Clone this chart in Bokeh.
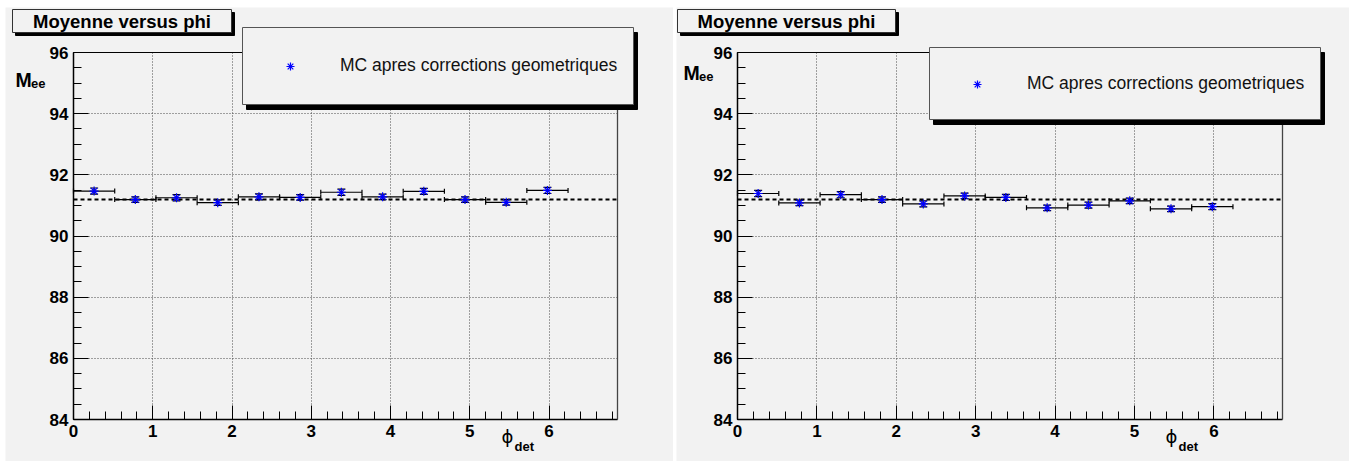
from bokeh.plotting import figure
from bokeh.layouts import row
from bokeh.models import (ColumnDataSource, Whisker, TeeHead, Label, BoxAnnotation, Range1d,
                          LinearAxis, FixedTicker, SingleIntervalTicker, Legend, LegendItem)
from bokeh.embed import file_html
from bokeh.resources import INLINE

# ---------------- data ----------------
phi_centers = [0.26, 0.78, 1.30, 1.82, 2.34, 2.86, 3.38, 3.90, 4.42, 4.94, 5.46, 5.98]
phi_halfwidth = [0.26, 0.26, 0.26, 0.26, 0.26, 0.26, 0.26, 0.26, 0.26, 0.26, 0.26, 0.26]
left_mass = [91.47, 91.19, 91.25, 91.09, 91.28, 91.26, 91.43, 91.28, 91.46, 91.19, 91.10, 91.49]
left_err = [0.10, 0.09, 0.10, 0.09, 0.10, 0.09, 0.10, 0.09, 0.10, 0.09, 0.09, 0.10]
right_mass = [91.39, 91.08, 91.35, 91.19, 91.05, 91.31, 91.26, 90.92, 91.01, 91.15, 90.89, 90.96]
right_err = [0.10, 0.09, 0.10, 0.09, 0.10, 0.09, 0.10, 0.09, 0.10, 0.09, 0.09, 0.10]
mean_mass = 91.19
x_limits = [0.0, 6.864]
y_limits = [84.0, 96.0]
title_text = "Moyenne versus phi"
legend_text = "MC apres corrections geometriques"
y_label_main, y_label_sub = "M", "ee"
x_label_main, x_label_sub = "\u03d5", "det"

FONT = "Liberation Sans"
BG = "#f2f2f2"
FIG_Y0, FIG_H = 7, 454
FRAME_TOP, FRAME_BOTTOM = 52, 419


def helper_axis(**kw):
    # an axis that draws only lines (no tick labels at all)
    return LinearAxis(major_label_text_color=None, minor_tick_line_color=None, **kw)


def make_panel(mass, err, fig_x0, fig_w, frame_left, frame_right, geo):
    sx = (frame_right - frame_left) / (x_limits[1] - x_limits[0])
    sy = (FRAME_BOTTOM - FRAME_TOP) / (y_limits[1] - y_limits[0])
    xr = Range1d(x_limits[0] - (frame_left - fig_x0) / sx, x_limits[0] + (fig_x0 + fig_w - frame_left) / sx)
    yr = Range1d(y_limits[1] - (FIG_Y0 + FIG_H - FRAME_TOP) / sy, y_limits[1] + (FRAME_TOP - FIG_Y0) / sy)

    def dx(px):
        return x_limits[0] + (px - frame_left) / sx

    def dy(py):
        return y_limits[1] - (py - FRAME_TOP) / sy

    p = figure(width=fig_w, height=FIG_H, x_range=xr, y_range=yr,
               x_axis_location=None, y_axis_location=None,
               output_backend="svg", toolbar_location=None,
               min_border=0, min_border_left=0, min_border_right=0, min_border_top=0,
               min_border_bottom=0,
               background_fill_color=BG, border_fill_color=BG, outline_line_color=None)
    p.grid.visible = False

    def axis_common(ax):
        ax.major_label_text_font = FONT
        ax.major_label_text_font_style = "bold"
        ax.major_label_text_font_size = "17px"
        ax.major_label_text_color = "black"
        ax.major_label_standoff = 5
        return ax

    # dotted grid drawn as long inward ticks of helper axes
    gy = helper_axis(fixed_location=x_limits[0], bounds=tuple(y_limits),
                     ticker=SingleIntervalTicker(interval=2, num_minor_ticks=0),
                     axis_line_color=None, major_tick_in=frame_right - frame_left, major_tick_out=0,
                     major_tick_line_color="#4a4a4a", major_tick_line_dash="1 2",
                     major_tick_line_width=1, level="underlay")
    gx = helper_axis(fixed_location=y_limits[0], bounds=tuple(x_limits),
                     ticker=SingleIntervalTicker(interval=1, num_minor_ticks=0),
                     axis_line_color=None, major_tick_in=FRAME_BOTTOM - FRAME_TOP, major_tick_out=0,
                     major_tick_line_color="#4a4a4a", major_tick_line_dash="1 2",
                     major_tick_line_width=1, level="underlay")
    p.add_layout(gy, "left")
    p.add_layout(gx, "below")

    # frame top / right edges
    p.add_layout(helper_axis(fixed_location=y_limits[1], bounds=tuple(x_limits), ticker=FixedTicker(ticks=[]),
                             axis_line_color="black", axis_line_width=1, major_tick_line_color=None),
                 "above")
    p.add_layout(helper_axis(fixed_location=x_limits[1], bounds=tuple(y_limits), ticker=FixedTicker(ticks=[]),
                             axis_line_color="#444444", axis_line_width=1.3, major_tick_line_color=None),
                 "right")

    # real axes
    xa = axis_common(LinearAxis(fixed_location=y_limits[0], bounds=tuple(x_limits),
                                ticker=SingleIntervalTicker(interval=1, num_minor_ticks=5),
                                axis_line_color="black", axis_line_width=1.5,
                                major_tick_in=14, major_tick_out=0, minor_tick_in=8, minor_tick_out=0,
                                major_tick_line_color="black", minor_tick_line_color="black"))
    ya = axis_common(LinearAxis(fixed_location=x_limits[0], bounds=tuple(y_limits),
                                ticker=SingleIntervalTicker(interval=2, num_minor_ticks=4),
                                axis_line_color="black", axis_line_width=1.5,
                                major_tick_in=15, major_tick_out=0, minor_tick_in=8, minor_tick_out=0,
                                major_tick_line_color="black", minor_tick_line_color="black"))
    p.add_layout(xa, "below")
    p.add_layout(ya, "left")

    # mean line
    p.line(x=x_limits, y=[mean_mass, mean_mass], line_color="black", line_width=2, line_dash="4 3")

    src = ColumnDataSource(dict(
        x=phi_centers, y=mass,
        xl=[c - h for c, h in zip(phi_centers, phi_halfwidth)],
        xu=[c + h for c, h in zip(phi_centers, phi_halfwidth)],
        yl=[m - e for m, e in zip(mass, err)],
        yu=[m + e for m, e in zip(mass, err)],
    ))
    p.add_layout(Whisker(source=src, base="y", lower="xl", upper="xu", dimension="width",
                         line_color="black", line_width=1.2,
                         lower_head=TeeHead(size=5, line_color="black", line_width=1.2),
                         upper_head=TeeHead(size=5, line_color="black", line_width=1.2)))
    p.add_layout(Whisker(source=src, base="x", lower="yl", upper="yu", dimension="height",
                         line_color="black", line_width=1.2,
                         lower_head=TeeHead(size=8, line_color="black", line_width=1.2),
                         upper_head=TeeHead(size=8, line_color="black", line_width=1.2)))
    sr = p.scatter("x", "y", source=src, marker="asterisk", size=9,
                   line_color="#0000ff", line_width=1.2)

    # title box with shadow
    tl, tt, tr, tb = geo["title"]
    p.add_layout(BoxAnnotation(left=dx(tl + 3), right=dx(tr + 3), top=dy(tt + 3), bottom=dy(tb + 3),
                               fill_color="black", fill_alpha=1, line_color="black", line_alpha=1))
    p.add_layout(BoxAnnotation(left=dx(tl), right=dx(tr), top=dy(tt), bottom=dy(tb),
                               fill_color=BG, fill_alpha=1, line_color="#333333", line_width=1,
                               line_alpha=1))
    p.add_layout(Label(x=dx((tl + tr) / 2), y=dy((tt + tb) / 2 + 0.5), text=title_text,
                       text_font=FONT, text_font_style="bold", text_font_size="18.5px",
                       text_align="center", text_baseline="middle", text_color="black"))

    # legend box with shadow
    ll, lt, lr, lb = geo["legend"]
    p.add_layout(BoxAnnotation(left=dx(ll + 4), right=dx(lr + 4), top=dy(lt + 5), bottom=dy(lb + 5),
                               fill_color="black", fill_alpha=1, line_color="black", line_alpha=1))
    p.add_layout(BoxAnnotation(left=dx(ll), right=dx(lr), top=dy(lt), bottom=dy(lb),
                               fill_color=BG, fill_alpha=1, line_color="#555555", line_width=1,
                               line_alpha=1))
    mx, my = geo["marker"]
    leg = Legend(items=[LegendItem(label=legend_text, renderers=[sr])],
                 location=(mx - 10 - fig_x0, FIG_Y0 + FIG_H - (my + 10)),
                 padding=0, margin=0, spacing=0, glyph_width=20, glyph_height=20,
                 label_height=20, label_standoff=geo["text_x"] - (mx + 10),
                 border_line_color=None, background_fill_alpha=0,
                 label_text_font=FONT, label_text_font_size="17.5px", label_text_color="#111111")
    p.add_layout(leg, "center")

    # axis titles
    mxl, mbl = geo["mee"]
    p.add_layout(Label(x=dx(mxl), y=dy(mbl), text=y_label_main, text_font=FONT,
                       text_font_style="bold", text_font_size="19.5px", text_align="left",
                       text_baseline="alphabetic", text_color="black"))
    p.add_layout(Label(x=dx(mxl + 15.5), y=dy(mbl + 4), text=y_label_sub, text_font=FONT,
                       text_font_style="bold", text_font_size="13px", text_align="left",
                       text_baseline="alphabetic", text_color="black"))
    px_, py_ = geo["phi"]
    p.add_layout(Label(x=dx(px_), y=dy(py_), text=x_label_main, text_font="DejaVu Sans",
                       text_font_size="18px", text_align="center", text_baseline="middle",
                       text_color="black"))
    p.add_layout(Label(x=dx(px_ + 7), y=dy(446), text=x_label_sub, text_font=FONT,
                       text_font_style="bold", text_font_size="13px", text_align="left",
                       text_baseline="alphabetic", text_color="black"))
    return p


left_geo = dict(title=(12, 9, 231, 32), legend=(242, 27, 633, 104), marker=(290, 66), text_x=340,
                mee=(15, 79), phi=(507, 436))
right_geo = dict(title=(677, 9, 895, 32), legend=(929, 47, 1320, 119), marker=(977, 84), text_x=1027,
                 mee=(683, 72), phi=(1171, 436))

p1 = make_panel(left_mass, left_err, 5, 668, 73, 617, left_geo)
p2 = make_panel(right_mass, right_err, 676, 673, 737, 1282, right_geo)
p1.margin = (FIG_Y0, 0, 0, 5)
p2.margin = (FIG_Y0, 0, 0, 3)

layout = row(p1, p2)
open("out.html", "w").write(file_html(layout, INLINE))
